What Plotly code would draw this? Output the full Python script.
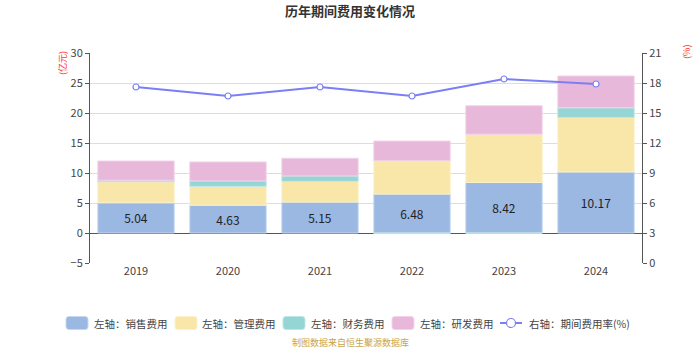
import plotly.graph_objects as go

years = ["2019", "2020", "2021", "2022", "2023", "2024"]
sales = [5.04, 4.63, 5.15, 6.48, 8.42, 10.17]
mgmt = [3.51, 3.15, 3.46, 5.55, 8.05, 9.10]
finance = [0.25, 0.90, 0.90, -0.10, -0.05, 1.60]
rnd = [3.20, 3.16, 2.95, 3.30, 4.75, 5.30]
rate = [17.6, 16.7, 17.6, 16.7, 18.4, 17.9]

names = ["左轴：销售费用", "左轴：管理费用", "左轴：财务费用", "左轴：研发费用", "右轴：期间费用率(%)"]
colors = ["#9ab8e2", "#f8e7a9", "#95d5d5", "#e7b8d9"]
edge = ["#c6d7f0", "#fbf0c8", "#bfe6e6", "#f2d3e9"]
line_color = "#7b7ff5"

font_cn = "Noto Sans CJK SC, Microsoft YaHei, sans-serif"

W, H = 700, 350
L, R, T, B = 90, 58, 53, 87
PW, PH = W - L - R, H - T - B


def px(x):
    return (x - L) / PW


def py(y):
    return (H - B - y) / PH


fig = go.Figure()
series = [sales, mgmt, finance, rnd]
for i, vals in enumerate(series):
    kw = {}
    if i == 0:
        kw = dict(text=[f"{v:.2f}" for v in vals], textposition="inside", insidetextanchor="middle",
                  textfont=dict(size=12, color="#222"))
    fig.add_trace(go.Bar(x=years, y=vals, name=names[i],
                         marker=dict(color=colors[i], line=dict(width=1, color=edge[i])),
                         hoverinfo="skip", **kw))
fig.add_trace(go.Scatter(x=years, y=rate, name=names[4], yaxis="y2", mode="lines+markers",
                         line=dict(color=line_color, width=2),
                         marker=dict(symbol="circle", size=6, color="white", line=dict(color=line_color, width=1.2))))

# custom legend (matches reference layout)
shapes = []
annotations = []
box_x = [66, 175, 283, 392]
text_x = [92, 200, 309, 418, 527]
ly = 323


def rrect(x0, y0, x1, y1, r):
    X0, X1 = px(x0), px(x1)
    Y0, Y1 = py(y0), py(y1)
    rx, ry = r / PW, r / PH
    return (f"M {X0+rx},{Y0} L {X1-rx},{Y0} Q {X1},{Y0} {X1},{Y0-ry} L {X1},{Y1+ry} "
            f"Q {X1},{Y1} {X1-rx},{Y1} L {X0+rx},{Y1} Q {X0},{Y1} {X0},{Y1+ry} L {X0},{Y0-ry} "
            f"Q {X0},{Y0} {X0+rx},{Y0} Z")


for i in range(4):
    shapes.append(dict(type="path", xref="paper", yref="paper",
                       path=rrect(box_x[i], ly - 6.5, box_x[i] + 22, ly + 6.5, 3),
                       fillcolor=colors[i], line=dict(width=1, color=edge[i])))
shapes.append(dict(type="line", xref="paper", yref="paper", x0=px(500), x1=px(522), y0=py(ly), y1=py(ly),
                   line=dict(color=line_color, width=2)))
shapes.append(dict(type="circle", xref="paper", yref="paper", x0=px(506.5), x1=px(515.5),
                   y0=py(ly - 4.5), y1=py(ly + 4.5), fillcolor="white", line=dict(color=line_color, width=1.2)))
for i, n in enumerate(names):
    annotations.append(dict(text=n, xref="paper", yref="paper", x=px(text_x[i]), y=py(ly),
                            xanchor="left", yanchor="middle", showarrow=False,
                            font=dict(size=10.5, color="#444")))

annotations += [
    dict(text="(亿元)", xref="paper", yref="paper", x=-0.051, y=0.952, textangle=-90,
         xanchor="center", yanchor="middle",
         showarrow=False, font=dict(size=9, color="#ff3333")),
    dict(text="(%)", xref="paper", yref="paper", x=1.0815, y=1.005, textangle=-90,
         xanchor="center", yanchor="middle",
         showarrow=False, font=dict(size=9, color="#ff3333")),
    dict(text="制图数据来自恒生聚源数据库", xref="paper", yref="paper", x=px(350), y=py(342),
         xanchor="center", yanchor="middle", showarrow=False, font=dict(size=9, color="#c9a44a")),
]

fig.update_layout(
    width=W, height=H,
    barmode="relative", bargap=0.17,
    margin=dict(l=L, r=R, t=T, b=B, autoexpand=False),
    paper_bgcolor="white", plot_bgcolor="white",
    font=dict(family=font_cn, size=11, color="#444"),
    title=dict(text="<b>历年期间费用变化情况</b>", x=0.5, xanchor="center", y=0.98, yanchor="top",
               font=dict(size=13, color="#333", family=font_cn)),
    showlegend=False,
    xaxis=dict(type="category", showline=False, ticks="", showgrid=False,
               tickfont=dict(size=11, color="#444")),
    yaxis=dict(range=[-5, 30], dtick=5, showgrid=True, gridcolor="#dddddd", gridwidth=1,
               showline=True, linecolor="#555", ticks="outside", ticklen=4, tickcolor="#555",
               zeroline=True, zerolinecolor="#555", zerolinewidth=1,
               tickfont=dict(size=11, color="#444")),
    yaxis2=dict(range=[0, 21], dtick=3, overlaying="y", side="right", showgrid=False,
                showline=True, linecolor="#555", ticks="outside", ticklen=4, tickcolor="#555",
                zeroline=False, tickfont=dict(size=11, color="#444")),
    shapes=shapes,
    annotations=annotations,
)

fig.write_html("out.html")
